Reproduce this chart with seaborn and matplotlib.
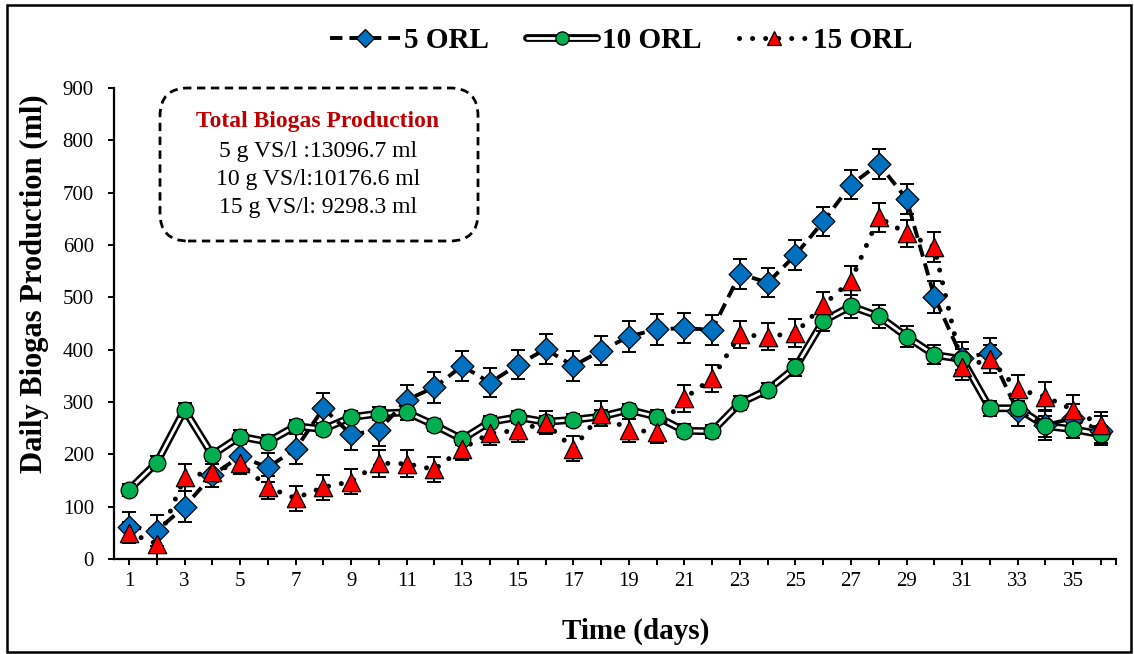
import numpy as np
import pandas as pd
import matplotlib
matplotlib.use("Agg")
import matplotlib.pyplot as plt
import matplotlib.patheffects as pe
import seaborn as sns
from matplotlib.lines import Line2D
from matplotlib.patches import FancyBboxPatch, Rectangle
from matplotlib.legend_handler import HandlerTuple

# ---------------- data ----------------
days = list(range(1, 37))
orl5 = [62, 54, 100, 160, 196, 175, 210, 288, 238, 246, 304, 328, 369, 337, 371, 401, 369, 398,
        425, 439, 441, 438, 545, 528, 581, 645, 715, 755, 688, 501, 384, 394, 282, 256, 269, 245]
orl10 = [132, 184, 285, 199, 234, 224, 254, 248, 271, 278, 280, 256, 229, 262, 271, 262, 266, 272,
         285, 272, 245, 244, 298, 323, 366, 455, 483, 464, 425, 390, 382, 288, 288, 254, 248, 238]
orl15 = [50, 29, 156, 167, 183, 137, 116, 137, 148, 183, 182, 171, 211, 240, 246, 260, 211, 278,
         246, 243, 307, 345, 429, 425, 432, 485, 532, 653, 622, 596, 366, 382, 324, 310, 285, 256]
err5 = [28, 30, 29, 22, 24, 28, 28, 30, 30, 30, 28, 30, 29, 28, 28, 29, 29, 28,
        29, 30, 29, 29, 29, 28, 28, 28, 28, 28, 28, 30, 30, 28, 28, 28, 28, 28]
err10 = [12, 12, 13, 12, 12, 12, 12, 12, 12, 12, 14, 12, 12, 12, 12, 12, 12, 12,
         12, 12, 12, 12, 14, 14, 16, 20, 22, 22, 20, 18, 20, 14, 14, 20, 16, 16]
err15 = [20, 30, 26, 20, 20, 22, 24, 24, 24, 26, 26, 24, 22, 22, 22, 22, 24, 24,
         22, 22, 26, 26, 26, 26, 26, 26, 28, 28, 26, 28, 24, 26, 28, 28, 28, 24]
series_names = ["5 ORL", "10 ORL", "15 ORL"]
total_title = "Total Biogas Production"
total_lines = ["5 g VS/l :13096.7 ml", "10 g VS/l:10176.6 ml", "15 g VS/l: 9298.3 ml"]

df = pd.DataFrame({"day": days, "orl5": orl5, "orl10": orl10, "orl15": orl15})

# ---------------- style ----------------
sns.set_style("ticks")
plt.rcParams["font.family"] = ["Liberation Serif", "DejaVu Serif"]
plt.rcParams["text.color"] = "black"
plt.rcParams["axes.labelcolor"] = "black"
plt.rcParams["xtick.color"] = "black"
plt.rcParams["ytick.color"] = "black"

BLUE = "#0070C0"
GREEN = "#00B050"
RED = "#FF0000"
DASH = (0, (3.2, 1.8))
DOT = (0, (0.01, 2.6))
DOUBLE = [pe.Stroke(linewidth=5.6, foreground="black"), pe.Normal()]

fig = plt.figure(figsize=(11.34, 6.54), dpi=100)
ax = fig.add_axes([0.1005, 0.1453, 0.8836, 0.7201])

# lines
sns.lineplot(data=df, x="day", y="orl10", ax=ax, color="white", lw=2.0, zorder=2,
             path_effects=DOUBLE)
sns.lineplot(data=df, x="day", y="orl5", ax=ax, color="black", lw=2.8, linestyle=DASH,
             zorder=2.2)
sns.lineplot(data=df, x="day", y="orl15", ax=ax, color="black", lw=3.6, linestyle=DOT,
             dash_capstyle="round", zorder=2.3)

# error bars
for vals, err, z in [(orl5, err5, 3), (orl10, err10, 3.1), (orl15, err15, 3.2)]:
    ax.errorbar(days, vals, yerr=err, fmt="none", ecolor="black", elinewidth=1.4,
                capsize=5, capthick=1.4, zorder=z)

# markers
sns.scatterplot(data=df, x="day", y="orl5", ax=ax, marker="D", s=135, color=BLUE,
                edgecolor="black", linewidth=0.9, zorder=4)
sns.scatterplot(data=df, x="day", y="orl10", ax=ax, marker="o", s=145, color=GREEN,
                edgecolor="black", linewidth=0.9, zorder=4.1)
sns.scatterplot(data=df, x="day", y="orl15", ax=ax, marker="^", s=175, color=RED,
                edgecolor="black", linewidth=0.9, zorder=4.2)

# axes
ax.set_xlim(0.46, 36.54)
ax.set_ylim(0, 900)
ax.set_xticks(days)
ax.set_xticklabels([str(d) if d % 2 == 1 else "" for d in days])
ax.set_xticks([36.54], minor=True)
ax.set_yticks(range(0, 901, 100))
ax.tick_params(axis="both", which="both", direction="out", length=4.5, width=1.4,
               labelsize=15, colors="black")
ax.tick_params(axis="x", pad=5)
ax.tick_params(axis="y", pad=10)
for sp in ["top", "right"]:
    ax.spines[sp].set_visible(False)
for sp in ["left", "bottom"]:
    ax.spines[sp].set_linewidth(1.6)
    ax.spines[sp].set_color("black")
ax.set_xlabel("Time (days)", fontsize=21, fontweight="bold")
ax.set_ylabel("Daily Biogas Production (ml)", fontsize=22, fontweight="bold")
ax.xaxis.set_label_coords(0.521, -0.125)
ax.yaxis.set_label_coords(-0.065, 0.584)
ax.grid(False)

# legend
h5 = Line2D([], [], color="black", lw=2.8, linestyle=DASH, marker="D", ms=9,
            mfc=BLUE, mec="black", mew=0.9)
h10 = (Line2D([], [], color="white", lw=2.0, path_effects=DOUBLE),
       Line2D([], [], linestyle="none", marker="o", ms=9.5, mfc=GREEN, mec="black", mew=0.9))
h15 = Line2D([], [], color="black", lw=3.6, linestyle=DOT, dash_capstyle="round",
             marker="^", ms=10.5, mfc=RED, mec="black", mew=0.9)
fig.legend([h5, h10, h15], series_names, loc="center", bbox_to_anchor=(0.548, 0.938),
           ncol=3, frameon=False, prop=dict(weight="bold", size=21),
           handlelength=2.4, handletextpad=0.15, columnspacing=1.3,
           handler_map={tuple: HandlerTuple(ndivide=1)})

# text box with totals
box = FancyBboxPatch((1.60, 4.13), 3.18, 1.53, boxstyle="round,pad=0,rounding_size=0.28",
                     transform=fig.dpi_scale_trans, fc="white", ec="black", lw=2.0,
                     linestyle=(0, (3, 2)), zorder=10)
fig.patches.append(box)
fig.text(3.18, 5.32, total_title, transform=fig.dpi_scale_trans,
         ha="center", va="center", fontsize=17, fontweight="bold", color="#C00000", zorder=11)
for yy, line in zip([5.03, 4.75, 4.47], total_lines):
    fig.text(3.18, yy, line, transform=fig.dpi_scale_trans, ha="center", va="center",
             fontsize=17, color="black", zorder=11)

# outer border
border = Rectangle((0.065, 0.02), 11.245, 6.47, transform=fig.dpi_scale_trans,
                   fill=False, ec="black", lw=1.8, zorder=0)
fig.patches.append(border)

fig.savefig("out.png", dpi=100)
